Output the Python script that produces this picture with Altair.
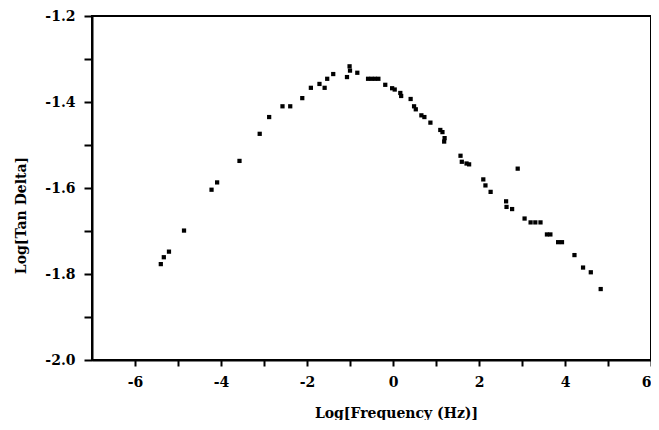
import altair as alt
import pandas as pd

log_freq = [-5.40, -5.33, -5.21, -4.86, -4.22, -4.09, -3.57, -3.10, -2.88, -2.57, -2.39,
            -2.11, -1.91, -1.71, -1.59, -1.53, -1.39, -1.07, -1.01, -1.00, -0.83,
            -0.58, -0.50, -0.42, -0.34, -0.18, -0.02, 0.04, 0.17, 0.19, 0.41, 0.49,
            0.53, 0.66, 0.73, 0.87, 1.10, 1.15, 1.20, 1.19, 1.57, 1.60, 1.71, 1.77,
            2.10, 2.15, 2.27, 2.90, 2.63, 2.64, 2.77, 3.06, 3.20, 3.31, 3.43,
            3.58, 3.66, 3.84, 3.93, 4.22, 4.42, 4.60, 4.83]
log_tan_delta = [-1.777, -1.761, -1.748, -1.699, -1.604, -1.587, -1.537, -1.474, -1.435, -1.410, -1.410,
                 -1.391, -1.367, -1.358, -1.367, -1.346, -1.335, -1.342, -1.317, -1.327, -1.332,
                 -1.346, -1.346, -1.346, -1.346, -1.360, -1.368, -1.371, -1.379, -1.386, -1.393, -1.410,
                 -1.417, -1.431, -1.435, -1.448, -1.465, -1.470, -1.484, -1.492, -1.525, -1.539, -1.543, -1.545,
                 -1.580, -1.594, -1.609, -1.555, -1.631, -1.644, -1.649, -1.671, -1.680, -1.680, -1.680,
                 -1.708, -1.708, -1.726, -1.726, -1.756, -1.785, -1.796, -1.835]

x_ticks = [-6, -5, -4, -3, -2, -1, 0, 1, 2, 3, 4, 5, 6]
y_ticks = [-2.0, -1.9, -1.8, -1.7, -1.6, -1.5, -1.4, -1.3, -1.2]

df = pd.DataFrame({"x": log_freq, "y": log_tan_delta})

FONT = "DejaVu Serif"

chart = alt.Chart(df).mark_square(size=18, color="black", opacity=1).encode(
    x=alt.X("x:Q",
            scale=alt.Scale(domain=[-7, 6], nice=False, zero=False),
            axis=alt.Axis(values=x_ticks, title="Log[Frequency (Hz)]",
                          labelExpr="datum.value % 2 == 0 ? replace(format(datum.value, 'd'), '\u2212', '-') : ''",
                          grid=False, tickSize=6, tickWidth=2, tickColor="black",
                          domainColor="black", domainWidth=2, labelPadding=9,
                          titlePadding=17, titleX=304)),
    y=alt.Y("y:Q",
            scale=alt.Scale(domain=[-2.0, -1.2], nice=False, zero=False),
            axis=alt.Axis(values=y_ticks, title="Log[Tan Delta]",
                          labelExpr="abs(round(datum.value * 10)) % 2 == 0 ? replace(format(datum.value, '.1f'), '\u2212', '-') : ''",
                          grid=False, tickSize=8, tickWidth=2, tickColor="black",
                          domainColor="black", domainWidth=2, labelPadding=9,
                          titlePadding=16, titleY=199)),
).properties(
    width=559, height=344,
    background="white",
    autosize=alt.AutoSizeParams(type="none"),
    padding={"left": 84, "top": 8, "right": 0, "bottom": 60},
).configure_view(
    stroke="black", strokeWidth=2
).configure_axis(
    labelFont=FONT, titleFont=FONT, labelFontSize=14, titleFontSize=14,
    labelFontWeight="bold", titleFontWeight="bold",
    labelColor="black", titleColor="black",
)

chart.save("out.html", embed_options={"renderer": "svg", "actions": False})
